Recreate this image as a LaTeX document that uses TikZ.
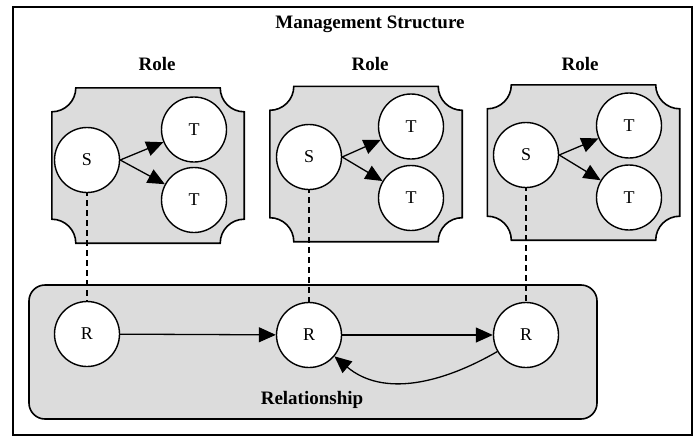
\documentclass[tikz,border=0pt]{standalone}
\usepackage{fontspec}
\setmainfont{Liberation Serif}
\usetikzlibrary{arrows.meta,positioning,calc}
\definecolor{panelgray}{HTML}{DCDCDC}

% role panel with concave corners, drawn round a named node
\newcommand{\roleoutline}[1]{%
  \draw[roleline] ([xshift=24pt]#1.north west) -- ([xshift=-24pt]#1.north east)
    arc[start angle=180, end angle=270, radius=24pt]
    -- ([yshift=24pt]#1.south east)
    arc[start angle=90, end angle=180, radius=24pt]
    -- ([xshift=24pt]#1.south west)
    arc[start angle=0, end angle=90, radius=24pt]
    -- ([yshift=-24pt]#1.north west)
    arc[start angle=270, end angle=360, radius=24pt] -- cycle;}

\begin{document}
\begin{tikzpicture}[
  x=1pt, y=1pt,
  circ/.style={circle, draw, fill=white, line width=1.4pt,
               minimum size=65pt, inner sep=0pt,
               font=\fontsize{18}{20}\selectfont},
  rolebox/.style={minimum width=192pt, minimum height=155pt, inner sep=0pt},
  roleline/.style={fill=panelgray, line width=1.6pt},
  relbox/.style={draw, fill=panelgray, rounded corners=16pt, line width=1.6pt,
                 minimum width=568pt, minimum height=134pt, inner sep=0pt},
  lbl/.style={font=\fontsize{19}{21}\selectfont\bfseries, inner sep=0pt},
  arr/.style={-{Triangle[length=17pt,width=15pt]}, line width=1.3pt},
  dasharr/.style={dash pattern=on 6pt off 4pt, line width=1.3pt}
]
\useasboundingbox (0,0) rectangle (695,-436);

%% Outer frame and title
\draw[line width=1.8pt] (13,-7) rectangle (692,-435);
\node[lbl] (title) at (370,-24) {Management Structure};

%% Role panels
\node[rolebox] (box1) at (148,-165.5) {};
\node[rolebox] (box2) at (366,-164) {};
\node[rolebox] (box3) at (583.5,-162.5) {};
\roleoutline{box1}
\roleoutline{box2}
\roleoutline{box3}

\node[lbl] (role1) at (157,-64) {Role};
\node[lbl] (role2) at (370,-64) {Role};
\node[lbl] (role3) at (580,-64) {Role};

%% Relationship panel
\node[relbox] (rel) at (313,-352) {};
\node[lbl] (rellbl) at (312,-400) {Relationship};

%% Dashed links, drawn under the circles
\coordinate (s1) at (87,-160);
\coordinate (r1) at (87,-334);
\draw[dasharr] (s1) -- (r1);
\draw[dasharr] (309,-157) coordinate (s2) -- (309,-335) coordinate (r2);
\draw[dasharr] (526,-155) coordinate (s3) -- (526,-335) coordinate (r3);

%% Circles
\node[circ] (S1) at (s1) {S};
\node[circ] (T1a) at (194,-129.5) {T};
\node[circ] (T1b) at (194,-200) {T};

\node[circ] (S2) at (s2) {S};
\node[circ] (T2a) at (411,-126.5) {T};
\node[circ] (T2b) at (411,-198) {T};

\node[circ] (S3) at (s3) {S};
\node[circ] (T3a) at (629,-125.5) {T};
\node[circ] (T3b) at (629,-197.5) {T};

\node[circ] (R1) at (r1) {R};
\node[circ] (R2) at (r2) {R};
\node[circ] (R3) at (r3) {R};

%% Arrows inside the roles
\draw[arr] (S1.east) -- (T1a);
\draw[arr] (S1.east) -- (T1b);
\draw[arr] (S2.east) -- (T2a);
\draw[arr] (S2.east) -- (T2b);
\draw[arr] (S3.east) -- (T3a);
\draw[arr] (S3.east) -- (T3b);

%% Arrows in the relationship
\draw[arr] (R1) -- (R2);
\draw[arr] (R2) -- (R3);
\draw[arr] (R3) to[out=210, in=-40] (R2);

\end{tikzpicture}
\end{document}
